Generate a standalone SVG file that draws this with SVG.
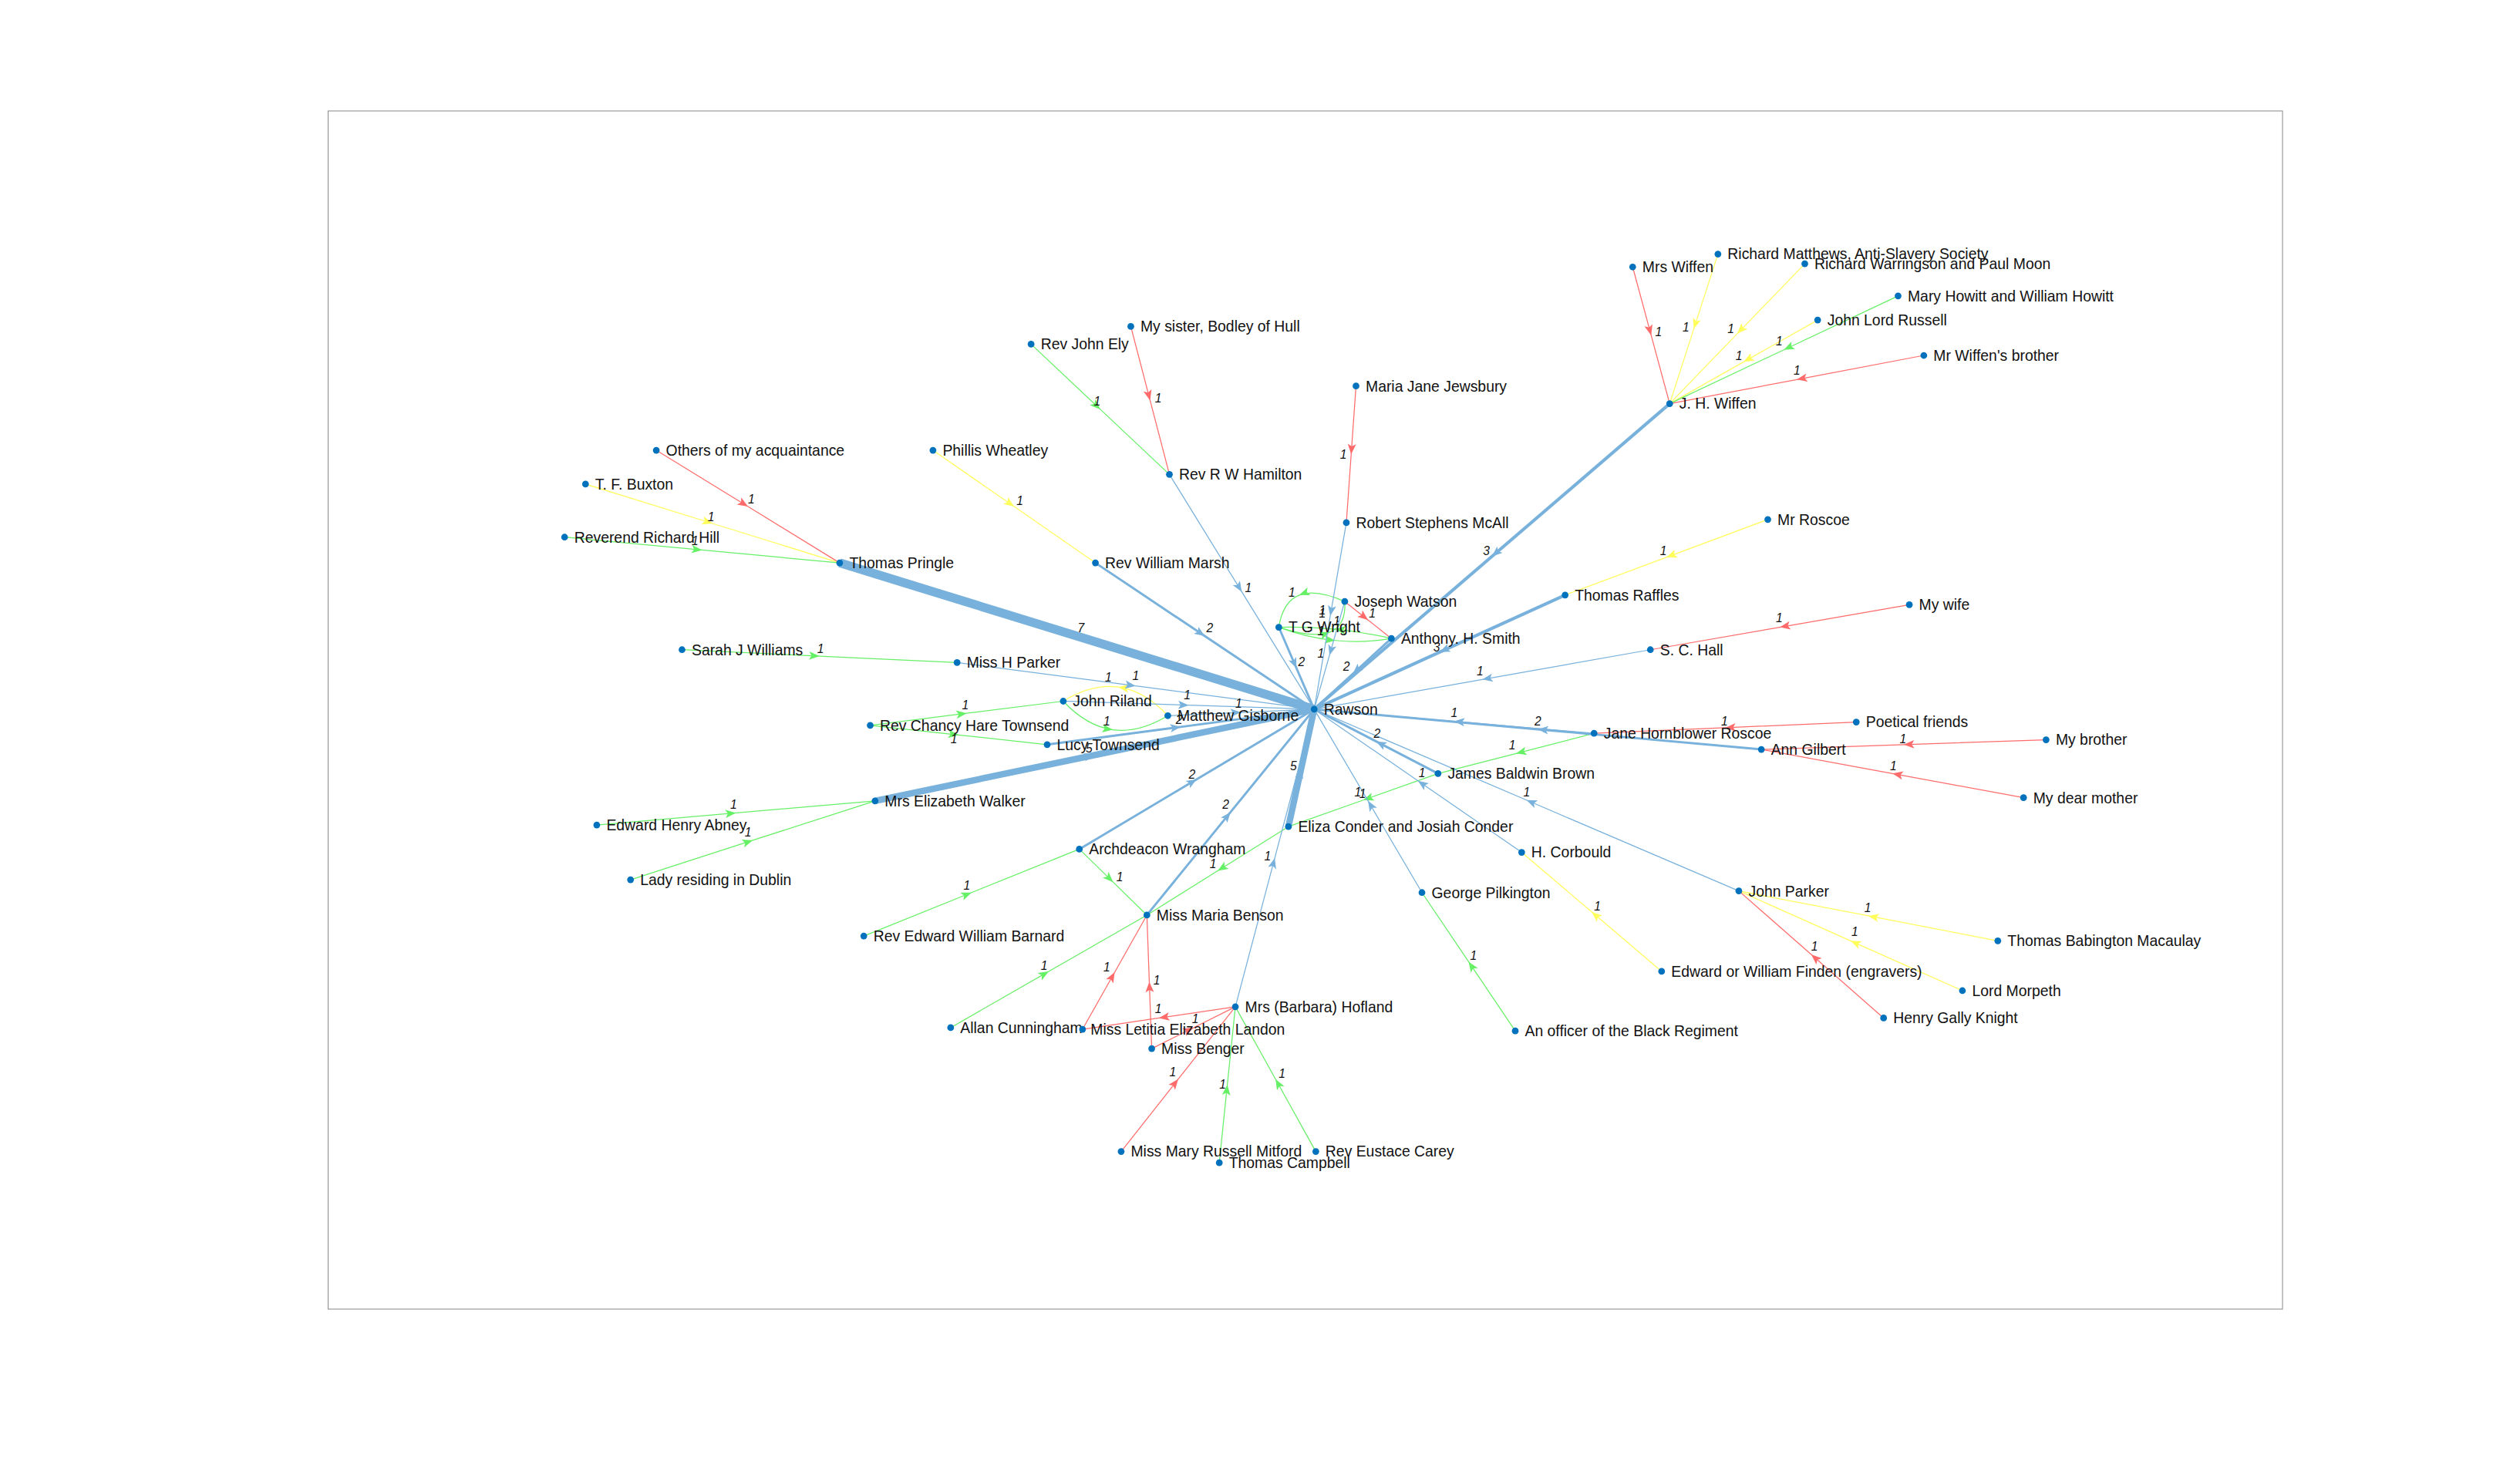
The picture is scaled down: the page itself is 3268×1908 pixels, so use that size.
<svg xmlns="http://www.w3.org/2000/svg" width="3268" height="1908" viewBox="0 0 3268 1908">
<style>
.e{fill:none;stroke-linejoin:round}
.b{stroke:#78b1dc;marker-mid:url(#ab)}
.r{stroke:#ff6b6b;stroke-width:0.6;marker-mid:url(#ar)}
.y{stroke:#ffff5c;stroke-width:0.6;marker-mid:url(#ay)}
.g{stroke:#66f066;stroke-width:0.6;marker-mid:url(#ag)}
.w1{stroke-width:0.6}.w2{stroke-width:1.4}.w3{stroke-width:2}.w5{stroke-width:4}.w7{stroke-width:5.5}
.n circle{fill:#0072bd}
text{font-family:"Liberation Sans",Arial,sans-serif;fill:#111}
.n text{font-size:9.3px}
.l text{font-size:7.5px;font-style:italic}
</style>
<defs>
<marker id="ab" markerUnits="userSpaceOnUse" orient="auto" overflow="visible" markerWidth="8" markerHeight="8"><path d="M0,0 L-6.5,-2.6 L-5,0 L-6.5,2.6 Z" fill="#78b1dc"/></marker>
<marker id="ar" markerUnits="userSpaceOnUse" orient="auto" overflow="visible" markerWidth="8" markerHeight="8"><path d="M0,0 L-6.5,-2.6 L-5,0 L-6.5,2.6 Z" fill="#ff6b6b"/></marker>
<marker id="ay" markerUnits="userSpaceOnUse" orient="auto" overflow="visible" markerWidth="8" markerHeight="8"><path d="M0,0 L-6.5,-2.6 L-5,0 L-6.5,2.6 Z" fill="#ffff5c"/></marker>
<marker id="ag" markerUnits="userSpaceOnUse" orient="auto" overflow="visible" markerWidth="8" markerHeight="8"><path d="M0,0 L-6.5,-2.6 L-5,0 L-6.5,2.6 Z" fill="#66f066"/></marker>
</defs>
<rect width="3268" height="1908" fill="#fff"/>
<g transform="scale(2.086)">
<rect x="204" y="69" width="1215" height="745" fill="none" stroke="#8c8c8c" stroke-width="0.5"/>
<g id="connectors">
<path class="e r" d="M1015,166 L1026.5,208.5 L1038,251"/>
<path class="e r" d="M1196,221 L1117,236 L1038,251"/>
<path class="e y" d="M1068,158 L1053,204.5 L1038,251"/>
<path class="e y" d="M1122,164 L1080,207.5 L1038,251"/>
<path class="e y" d="M1130,199 L1084,225 L1038,251"/>
<path class="e g" d="M1180,184 L1109,217.5 L1038,251"/>
<path class="e r" d="M703,203 L715,249 L727,295"/>
<path class="e g" d="M641,214 L684,254.5 L727,295"/>
<path class="e r" d="M843,240 L840,282.5 L837,325"/>
<path class="e r" d="M408,280 L465,315 L522,350"/>
<path class="e y" d="M364,301 L443,325.5 L522,350"/>
<path class="e g" d="M351,334 L436.5,342 L522,350"/>
<path class="e y" d="M580,280 L630.5,315 L681,350"/>
<path class="e y" d="M1099,323 L1036,346.5 L973,370"/>
<path class="e r" d="M1187,376 L1106.5,390 L1026,404"/>
<path class="e r" d="M836,374 L850.5,385.5 L865,397"/>
<path class="e g" d="M424,404 L509.5,408 L595,412"/>
<path class="e g" d="M541,451 L601,443.5 L661,436"/>
<path class="e g" d="M541,451 L596,457 L651,463"/>
<path class="e r" d="M1154,449 L1072.5,452.5 L991,456"/>
<path class="e r" d="M1272,460 L1183.5,463 L1095,466"/>
<path class="e r" d="M1258,496 L1176.5,481 L1095,466"/>
<path class="e g" d="M991,456 L942.5,468.5 L894,481"/>
<path class="e g" d="M894,481 L847.5,497.5 L801,514"/>
<path class="e g" d="M801,514 L757,541.5 L713,569"/>
<path class="e g" d="M591,639 L652,604 L713,569"/>
<path class="e g" d="M671,528 L692,548.5 L713,569"/>
<path class="e g" d="M537,582 L604,555 L671,528"/>
<path class="e g" d="M371,513 L457.5,505.5 L544,498"/>
<path class="e g" d="M392,547 L468,522.5 L544,498"/>
<path class="e r" d="M673,640 L693,604.5 L713,569"/>
<path class="e r" d="M716,652 L714.5,610.5 L713,569"/>
<path class="e r" d="M768,626 L720.5,633 L673,640"/>
<path class="e r" d="M716,652 L742,639 L768,626"/>
<path class="e r" d="M697,716 L732.5,671 L768,626"/>
<path class="e g" d="M758,723 L763,674.5 L768,626"/>
<path class="e g" d="M818,716 L793,671 L768,626"/>
<path class="e g" d="M942,641 L913,598 L884,555"/>
<path class="e y" d="M1033,604 L989.5,567 L946,530"/>
<path class="e y" d="M1242,585 L1161.5,569.5 L1081,554"/>
<path class="e y" d="M1220,616 L1150.5,585 L1081,554"/>
<path class="e r" d="M1171,633 L1126,593.5 L1081,554"/>
<path class="e y" d="M726,445 Q711.5,429.5 695.25,427.25 Q679,425 661,436"/>
<path class="e g" d="M661,436 Q675.5,451.5 691.75,453.75 Q708,456 726,445"/>
<path class="e g" d="M836,374 Q818,366 807.75,370 Q797.5,374 795,390"/>
<path class="e g" d="M795,390 Q816.5,397 826.75,393 Q837,389 836,374"/>
<path class="e g" d="M795,390 Q812.5,396.5 830,398.25 Q847.5,400 865,397"/>
<path class="e g" d="M865,397 Q847.5,393 830,391.25 Q812.5,389.5 795,390"/>
<path class="e b w7" d="M522,350 L669.5,395.5 L817,441"/>
<path class="e b w2" d="M681,350 L749,395.5 L817,441"/>
<path class="e b w1" d="M727,295 L772,368 L817,441"/>
<path class="e b w1" d="M837,325 L827,383 L817,441"/>
<path class="e b w1" d="M836,374 L826.5,407.5 L817,441"/>
<path class="e b w2" d="M795,390 L806,415.5 L817,441"/>
<path class="e b w2" d="M865,397 L841,419 L817,441"/>
<path class="e b w3" d="M1038,251 L927.5,346 L817,441"/>
<path class="e b w3" d="M973,370 L895,405.5 L817,441"/>
<path class="e b w1" d="M1026,404 L921.5,422.5 L817,441"/>
<path class="e b w1" d="M991,456 L904,448.5 L817,441"/>
<path class="e b w2" d="M1095,466 L956,453.5 L817,441"/>
<path class="e b w2" d="M894,481 L855.5,461 L817,441"/>
<path class="e b w1" d="M946,530 L881.5,485.5 L817,441"/>
<path class="e b w1" d="M1081,554 L949,497.5 L817,441"/>
<path class="e b w1" d="M884,555 L850.5,498 L817,441"/>
<path class="e b w5" d="M801,514 L809,477.5 L817,441"/>
<path class="e b w1" d="M768,626 L792.5,533.5 L817,441"/>
<path class="e b w2" d="M713,569 L765,505 L817,441"/>
<path class="e b w2" d="M671,528 L744,484.5 L817,441"/>
<path class="e b w5" d="M544,498 L680.5,469.5 L817,441"/>
<path class="e b w2" d="M651,463 L734,452 L817,441"/>
<path class="e b w1" d="M726,445 L771.5,443 L817,441"/>
<path class="e b w1" d="M661,436 L739,438.5 L817,441"/>
<path class="e b w1" d="M595,412 L706,426.5 L817,441"/>
</g>
<g id="edge-labels" class="l">
<text x="1029" y="209">1</text><text x="1115" y="233">1</text><text x="1046" y="206">1</text><text x="1074" y="207">1</text><text x="1079" y="224">1</text><text x="1104" y="215">1</text>
<text x="718" y="250">1</text><text x="680" y="252">1</text><text x="833" y="285">1</text><text x="465" y="313">1</text><text x="440" y="324">1</text><text x="430" y="339">1</text><text x="632" y="314">1</text><text x="1032" y="345">1</text><text x="1104" y="387">1</text><text x="851" y="384">1</text>
<text x="508" y="406">1</text><text x="598" y="441">1</text><text x="591" y="462">1</text><text x="1070" y="451">1</text><text x="1181" y="462">1</text><text x="1175" y="479">1</text>
<text x="938" y="466">1</text><text x="842" y="495">1</text><text x="752" y="540">1</text><text x="647" y="603">1</text><text x="694" y="548">1</text><text x="599" y="553">1</text><text x="454" y="503">1</text><text x="463" y="520">1</text>
<text x="686" y="604">1</text><text x="717" y="612">1</text><text x="718" y="630">1</text><text x="741" y="636">1</text><text x="727" y="669">1</text><text x="758" y="677">1</text><text x="795" y="670">1</text>
<text x="914" y="597">1</text><text x="991" y="566">1</text><text x="1159" y="567">1</text><text x="1151" y="582">1</text><text x="1126" y="591">1</text>
<text x="687" y="424">1</text><text x="686" y="451">1</text><text x="801" y="371">1</text><text x="820" y="384">1</text><text x="819" y="395">1</text><text x="829" y="389">1</text>
<text x="670" y="393">7</text><text x="750" y="393">2</text><text x="774" y="368">1</text><text x="819" y="409">1</text><text x="820" y="382">1</text><text x="807" y="414">2</text><text x="835" y="417">2</text>
<text x="922" y="345">3</text><text x="891" y="405">3</text><text x="918" y="420">1</text><text x="902" y="446">1</text><text x="954" y="451">2</text><text x="854" y="459">2</text><text x="882" y="483">1</text><text x="947" y="495">1</text><text x="845" y="496">1</text>
<text x="802" y="479">5</text><text x="786" y="535">1</text><text x="760" y="503">2</text><text x="739" y="484">2</text><text x="675" y="468">5</text><text x="731" y="450">2</text><text x="768" y="440">1</text><text x="736" y="435">1</text><text x="704" y="423">1</text>
</g>
<g id="n-rawson" class="n"><circle cx="817" cy="441" r="2.1"/><text x="823" y="444.3">Rawson</text></g>
<g id="n-mrs-wiffen" class="n"><circle cx="1015" cy="166" r="2.1"/><text x="1021" y="169.3">Mrs Wiffen</text></g>
<g id="n-richard-matthews" class="n"><circle cx="1068" cy="158" r="2.1"/><text x="1074" y="161.3">Richard Matthews, Anti-Slavery Society</text></g>
<g id="n-richard-warringson" class="n"><circle cx="1122" cy="164" r="2.1"/><text x="1128" y="167.3">Richard Warringson and Paul Moon</text></g>
<g id="n-mary-howitt" class="n"><circle cx="1180" cy="184" r="2.1"/><text x="1186" y="187.3">Mary Howitt and William Howitt</text></g>
<g id="n-john-lord-russell" class="n"><circle cx="1130" cy="199" r="2.1"/><text x="1136" y="202.3">John Lord Russell</text></g>
<g id="n-mr-wiffens-brother" class="n"><circle cx="1196" cy="221" r="2.1"/><text x="1202" y="224.3">Mr Wiffen's brother</text></g>
<g id="n-jh-wiffen" class="n"><circle cx="1038" cy="251" r="2.1"/><text x="1044" y="254.3">J. H. Wiffen</text></g>
<g id="n-my-sister" class="n"><circle cx="703" cy="203" r="2.1"/><text x="709" y="206.3">My sister, Bodley of Hull</text></g>
<g id="n-rev-john-ely" class="n"><circle cx="641" cy="214" r="2.1"/><text x="647" y="217.3">Rev John Ely</text></g>
<g id="n-maria-jane-jewsbury" class="n"><circle cx="843" cy="240" r="2.1"/><text x="849" y="243.3">Maria Jane Jewsbury</text></g>
<g id="n-rev-rw-hamilton" class="n"><circle cx="727" cy="295" r="2.1"/><text x="733" y="298.3">Rev R W Hamilton</text></g>
<g id="n-others" class="n"><circle cx="408" cy="280" r="2.1"/><text x="414" y="283.3">Others of my acquaintance</text></g>
<g id="n-phillis-wheatley" class="n"><circle cx="580" cy="280" r="2.1"/><text x="586" y="283.3">Phillis Wheatley</text></g>
<g id="n-tf-buxton" class="n"><circle cx="364" cy="301" r="2.1"/><text x="370" y="304.3">T. F. Buxton</text></g>
<g id="n-reverend-richard-hill" class="n"><circle cx="351" cy="334" r="2.1"/><text x="357" y="337.3">Reverend Richard Hill</text></g>
<g id="n-thomas-pringle" class="n"><circle cx="522" cy="350" r="2.1"/><text x="528" y="353.3">Thomas Pringle</text></g>
<g id="n-rev-william-marsh" class="n"><circle cx="681" cy="350" r="2.1"/><text x="687" y="353.3">Rev William Marsh</text></g>
<g id="n-robert-stephens-mcall" class="n"><circle cx="837" cy="325" r="2.1"/><text x="843" y="328.3">Robert Stephens McAll</text></g>
<g id="n-mr-roscoe" class="n"><circle cx="1099" cy="323" r="2.1"/><text x="1105" y="326.3">Mr Roscoe</text></g>
<g id="n-thomas-raffles" class="n"><circle cx="973" cy="370" r="2.1"/><text x="979" y="373.3">Thomas Raffles</text></g>
<g id="n-joseph-watson" class="n"><circle cx="836" cy="374" r="2.1"/><text x="842" y="377.3">Joseph Watson</text></g>
<g id="n-my-wife" class="n"><circle cx="1187" cy="376" r="2.1"/><text x="1193" y="379.3">My wife</text></g>
<g id="n-tg-wright" class="n"><circle cx="795" cy="390" r="2.1"/><text x="801" y="393.3">T G Wright</text></g>
<g id="n-anthony-h-smith" class="n"><circle cx="865" cy="397" r="2.1"/><text x="871" y="400.3">Anthony. H. Smith</text></g>
<g id="n-sc-hall" class="n"><circle cx="1026" cy="404" r="2.1"/><text x="1032" y="407.3">S. C. Hall</text></g>
<g id="n-sarah-j-williams" class="n"><circle cx="424" cy="404" r="2.1"/><text x="430" y="407.3">Sarah J Williams</text></g>
<g id="n-miss-h-parker" class="n"><circle cx="595" cy="412" r="2.1"/><text x="601" y="415.3">Miss H Parker</text></g>
<g id="n-john-riland" class="n"><circle cx="661" cy="436" r="2.1"/><text x="667" y="439.3">John Riland</text></g>
<g id="n-matthew-gisborne" class="n"><circle cx="726" cy="445" r="2.1"/><text x="732" y="448.3">Matthew Gisborne</text></g>
<g id="n-rev-chancy" class="n"><circle cx="541" cy="451" r="2.1"/><text x="547" y="454.3">Rev Chancy Hare Townsend</text></g>
<g id="n-poetical-friends" class="n"><circle cx="1154" cy="449" r="2.1"/><text x="1160" y="452.3">Poetical friends</text></g>
<g id="n-jane-hornblower-roscoe" class="n"><circle cx="991" cy="456" r="2.1"/><text x="997" y="459.3">Jane Hornblower Roscoe</text></g>
<g id="n-my-brother" class="n"><circle cx="1272" cy="460" r="2.1"/><text x="1278" y="463.3">My brother</text></g>
<g id="n-lucy-townsend" class="n"><circle cx="651" cy="463" r="2.1"/><text x="657" y="466.3">Lucy Townsend</text></g>
<g id="n-ann-gilbert" class="n"><circle cx="1095" cy="466" r="2.1"/><text x="1101" y="469.3">Ann Gilbert</text></g>
<g id="n-james-baldwin-brown" class="n"><circle cx="894" cy="481" r="2.1"/><text x="900" y="484.3">James Baldwin Brown</text></g>
<g id="n-my-dear-mother" class="n"><circle cx="1258" cy="496" r="2.1"/><text x="1264" y="499.3">My dear mother</text></g>
<g id="n-mrs-elizabeth-walker" class="n"><circle cx="544" cy="498" r="2.1"/><text x="550" y="501.3">Mrs Elizabeth Walker</text></g>
<g id="n-edward-henry-abney" class="n"><circle cx="371" cy="513" r="2.1"/><text x="377" y="516.3">Edward Henry Abney</text></g>
<g id="n-eliza-conder" class="n"><circle cx="801" cy="514" r="2.1"/><text x="807" y="517.3">Eliza Conder and Josiah Conder</text></g>
<g id="n-archdeacon-wrangham" class="n"><circle cx="671" cy="528" r="2.1"/><text x="677" y="531.3">Archdeacon Wrangham</text></g>
<g id="n-h-corbould" class="n"><circle cx="946" cy="530" r="2.1"/><text x="952" y="533.3">H. Corbould</text></g>
<g id="n-lady-dublin" class="n"><circle cx="392" cy="547" r="2.1"/><text x="398" y="550.3">Lady residing in Dublin</text></g>
<g id="n-george-pilkington" class="n"><circle cx="884" cy="555" r="2.1"/><text x="890" y="558.3">George Pilkington</text></g>
<g id="n-john-parker" class="n"><circle cx="1081" cy="554" r="2.1"/><text x="1087" y="557.3">John Parker</text></g>
<g id="n-miss-maria-benson" class="n"><circle cx="713" cy="569" r="2.1"/><text x="719" y="572.3">Miss Maria Benson</text></g>
<g id="n-rev-edward-william-barnard" class="n"><circle cx="537" cy="582" r="2.1"/><text x="543" y="585.3">Rev Edward William Barnard</text></g>
<g id="n-thomas-babington-macaulay" class="n"><circle cx="1242" cy="585" r="2.1"/><text x="1248" y="588.3">Thomas Babington Macaulay</text></g>
<g id="n-finden" class="n"><circle cx="1033" cy="604" r="2.1"/><text x="1039" y="607.3">Edward or William Finden (engravers)</text></g>
<g id="n-lord-morpeth" class="n"><circle cx="1220" cy="616" r="2.1"/><text x="1226" y="619.3">Lord Morpeth</text></g>
<g id="n-mrs-hofland" class="n"><circle cx="768" cy="626" r="2.1"/><text x="774" y="629.3">Mrs (Barbara) Hofland</text></g>
<g id="n-henry-gally-knight" class="n"><circle cx="1171" cy="633" r="2.1"/><text x="1177" y="636.3">Henry Gally Knight</text></g>
<g id="n-allan-cunningham" class="n"><circle cx="591" cy="639" r="2.1"/><text x="597" y="642.3">Allan Cunningham</text></g>
<g id="n-miss-landon" class="n"><circle cx="673" cy="640" r="2.1"/><text x="678" y="643.3">Miss Letitia Elizabeth Landon</text></g>
<g id="n-miss-benger" class="n"><circle cx="716" cy="652" r="2.1"/><text x="722" y="655.3">Miss Benger</text></g>
<g id="n-officer" class="n"><circle cx="942" cy="641" r="2.1"/><text x="948" y="644.3">An officer of the Black Regiment</text></g>
<g id="n-mitford" class="n"><circle cx="697" cy="716" r="2.1"/><text x="703" y="719.3">Miss Mary Russell Mitford</text></g>
<g id="n-rev-eustace-carey" class="n"><circle cx="818" cy="716" r="2.1"/><text x="824" y="719.3">Rev Eustace Carey</text></g>
<g id="n-thomas-campbell" class="n"><circle cx="758" cy="723" r="2.1"/><text x="764" y="726.3">Thomas Campbell</text></g>
</g>
</svg>
